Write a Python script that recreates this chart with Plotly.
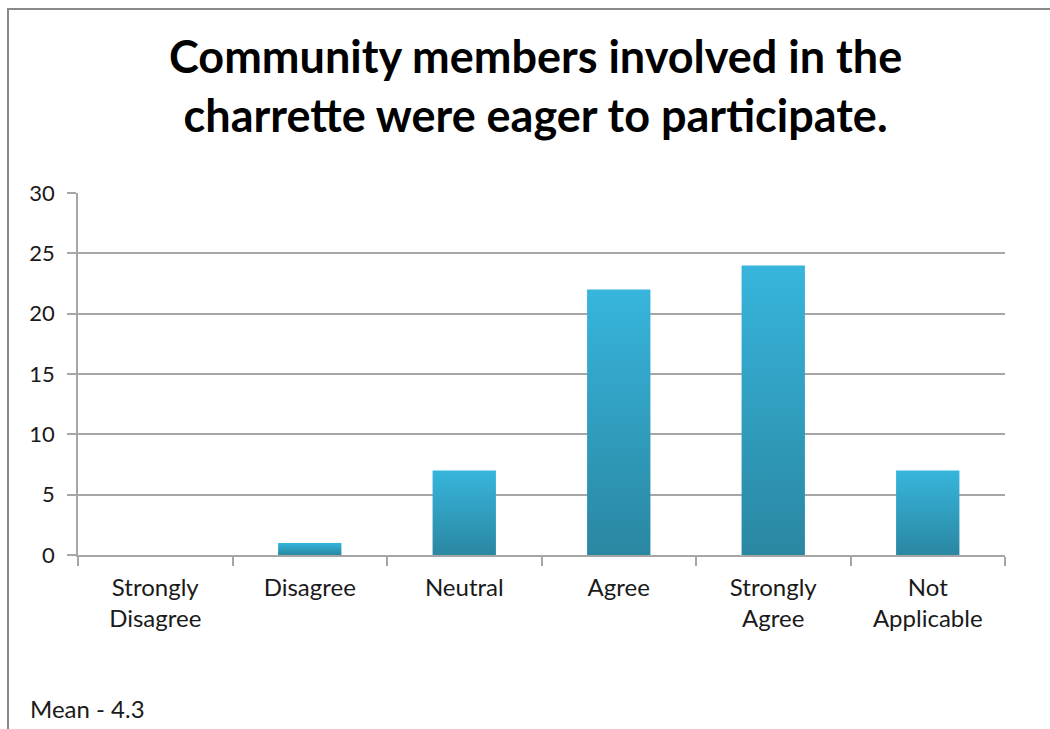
import plotly.graph_objects as go

# Survey responses
categories = ["Strongly<br>Disagree", "Disagree", "Neutral", "Agree", "Strongly<br>Agree", "Not<br>Applicable"]
counts = [0, 1, 7, 22, 24, 7]
y_ticks = [0, 5, 10, 15, 20, 25, 30]
title_lines = ["Community members involved in the", "charrette were eager to participate."]
mean_note = "Mean - 4.3"

FONT = "Lato, 'Open Sans', sans-serif"
GRID = "#a6a6a6"
TEXT = "#1a1a1a"
BAR_DARK = "#2a87a2"
BAR_LIGHT = "#37b5dc"
BAR_WIDTH = 0.41

fig = go.Figure()

# Each bar is a filled rectangle with its own vertical gradient
for i, v in enumerate(counts):
    if v <= 0:
        continue
    x0, x1 = i - BAR_WIDTH / 2, i + BAR_WIDTH / 2
    fig.add_trace(go.Scatter(
        x=[x0, x1, x1, x0, x0],
        y=[0, 0, v, v, 0],
        mode="lines",
        line=dict(width=0, color=BAR_LIGHT),
        fill="toself",
        fillgradient=dict(type="vertical",
                          colorscale=[[0, BAR_DARK], [1, BAR_LIGHT]]),
        hoverinfo="skip",
        showlegend=False,
    ))

n = len(categories)
fig.update_xaxes(
    range=[-0.5, n - 0.5],
    tickmode="array",
    tickvals=list(range(n)),
    ticktext=categories,
    ticks="",
    showgrid=False,
    zeroline=False,
    showline=True,
    linecolor=GRID,
    linewidth=1.5,
    tickfont=dict(family=FONT, size=24, color=TEXT),
    ticklabelstandoff=10,
    minor=dict(tickmode="array", tickvals=[k - 0.5 for k in range(n + 1)],
               ticks="outside", ticklen=9, tickcolor=GRID, tickwidth=1.5,
               showgrid=False),
    fixedrange=True,
)
fig.update_yaxes(
    range=[0, 30],
    tickmode="array",
    tickvals=y_ticks,
    ticks="outside",
    ticklen=9,
    tickcolor=GRID,
    tickwidth=1.5,
    showgrid=True,
    gridcolor=GRID,
    gridwidth=1.5,
    zeroline=False,
    showline=True,
    linecolor=GRID,
    linewidth=1.5,
    tickfont=dict(family=FONT, size=22, color=TEXT),
    ticklabelstandoff=8,
    fixedrange=True,
)

# Outer chart frame
fig.add_shape(type="rect", xref="paper", yref="paper",
              x0=-70 / 927, x1=1.2, y0=-0.8, y1=(555 - 9) / 362,
              line=dict(color="#8a8a8a", width=2), fillcolor="rgba(0,0,0,0)",
              layer="below")

fig.add_annotation(text="<br>".join(title_lines), xref="paper", yref="paper",
                   x=(535 - 78) / 927, y=(555 - 27) / 362, xanchor="center", yanchor="top",
                   showarrow=False, align="center",
                   font=dict(family=FONT, size=45, color="#000000", weight="bold"))

fig.add_annotation(text=mean_note, xref="paper", yref="paper",
                   x=(28 - 78) / 927, y=(555 - 708) / 362, xanchor="left", yanchor="middle",
                   showarrow=False,
                   font=dict(family=FONT, size=24, color=TEXT))

fig.update_layout(
    width=1050, height=729,
    margin=dict(l=78, r=45, t=193, b=174),
    paper_bgcolor="white",
    plot_bgcolor="white",
    showlegend=False,
)

fig.write_html("out.html")
